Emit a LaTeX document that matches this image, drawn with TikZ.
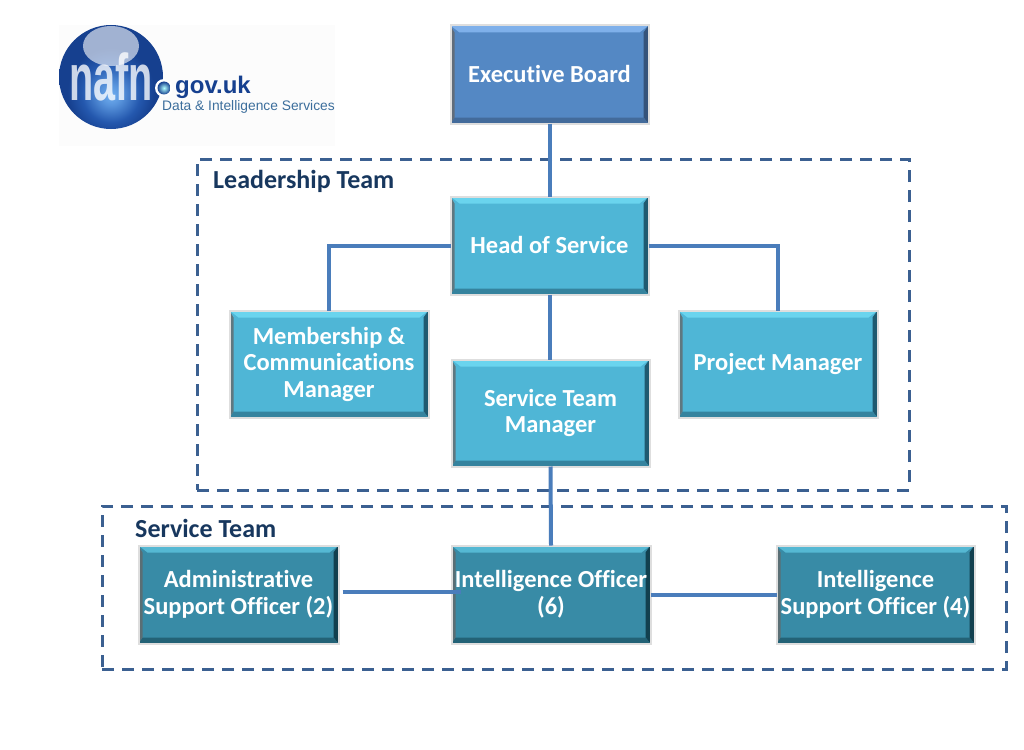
\documentclass[tikz,border=0pt]{standalone}
\usepackage{fontspec}
\setmainfont{Carlito}[Ligatures=NoCommon]
\newfontfamily\logosans{Liberation Sans}
\usetikzlibrary{calc}
\definecolor{dashc}{HTML}{3B6091}
\definecolor{linkc}{HTML}{4A7DBB}
\definecolor{titlec}{HTML}{17375E}
\tikzset{
  x=1pt,y=-1pt,
  bevelbox/.style n args={5}{rectangle,inner sep=0pt,outer sep=0pt,minimum width=#1,minimum height=#2,
    draw=black!13,line width=2pt,fill=#3,text=white,align=center,
    font=\fontsize{24.5}{26.5}\selectfont\bfseries,
    path picture={
      \coordinate (sw) at (path picture bounding box.south west);
      \coordinate (ne) at (path picture bounding box.north east);
      \coordinate (nw) at (path picture bounding box.north west);
      \coordinate (se) at (path picture bounding box.south east);
      \fill[#4] (nw) -- (ne) -- ($(ne)+(-9pt,-7pt)$) -- ($(nw)+(9pt,-7pt)$) -- cycle;
      \fill[#5] (ne) -- (se) -- ($(se)+(-5pt,6pt)$) -- ($(ne)+(-5pt,-7pt)$) -- cycle;
      \fill[#5!55!#3] (sw) -- (se) -- ($(se)+(-5pt,6pt)$) -- ($(sw)+(4pt,6pt)$) -- cycle;
      \fill[#3!60!black!40!gray] (nw) -- (sw) -- ($(sw)+(4pt,6pt)$) -- ($(nw)+(4pt,-7pt)$) -- cycle;
    }},
  execbox/.style n args={2}{bevelbox={#1}{#2}{execfill}{exectop}{execdark}},
  leadbox/.style n args={2}{bevelbox={#1}{#2}{leadfill}{leadtop}{leaddark}},
  teambox/.style n args={2}{bevelbox={#1}{#2}{teamfill}{teamtop}{teamdark}},
  link/.style={draw=linkc,line width=4pt},
  groupframe/.style={draw=dashc,line width=3pt,dash pattern=on 12pt off 8pt},
  grouptitle/.style={text=titlec,font=\fontsize{26}{27}\selectfont\bfseries,anchor=west,inner sep=0pt},
}
\definecolor{execfill}{HTML}{5488C4}
\definecolor{exectop}{HTML}{7FB0EA}
\definecolor{execdark}{HTML}{35537A}
\definecolor{leadfill}{HTML}{4FB6D6}
\definecolor{leadtop}{HTML}{6AD4EE}
\definecolor{leaddark}{HTML}{1F5A70}
\definecolor{teamfill}{HTML}{388BA6}
\definecolor{teamtop}{HTML}{55B8D3}
\definecolor{teamdark}{HTML}{12404F}
\definecolor{logoblue}{HTML}{16408F}
\definecolor{logomid}{HTML}{2458AE}
\definecolor{logoglow}{HTML}{6FAEF0}
\definecolor{logotext}{HTML}{3C6E9C}
\pgfdeclareradialshading{logoball}{\pgfpoint{0bp}{-9bp}}{
  color(0bp)=(logoglow); color(5bp)=(logoglow!70!logomid); color(14bp)=(logomid); color(21bp)=(logoblue); color(100bp)=(logoblue)}
\begin{document}
\begin{tikzpicture}
\useasboundingbox (0,0) rectangle (1024,749);
\fill[white] (0,0) rectangle (1024,749);
% logo
\fill[black!1!white] (59,25) rectangle (335,146);
\shade[shading=logoball] (111,77) circle (52);
\fill[white,opacity=.6] (111,46) ellipse (28 and 20);
\node[inner sep=0pt,text=white,opacity=.78,font=\logosans\bfseries\fontsize{66}{66}\selectfont,xscale=.6] (logomark) at (111,77) {nafn};
\fill[white] (164,88) circle (9);
\shade[inner color=cyan!30!white,outer color=logoblue] (164,88) circle (6.5);
\node[inner sep=0pt,anchor=west,text=logoblue,font=\logosans\bfseries\fontsize{24}{24}\selectfont] (logodomain) at (175,87) {gov.uk};
\node[inner sep=0pt,anchor=west,text=logotext,font=\logosans\fontsize{13.8}{15}\selectfont] (logotag) at (162,107) {Data \& Intelligence Services};
% groups
\node[groupframe,rectangle,inner sep=0pt,outer sep=0pt,minimum width=712pt,minimum height=331pt] (leadership) at (553,324.5) {};
\node[groupframe,rectangle,inner sep=0pt,outer sep=0pt,minimum width=904pt,minimum height=163pt] (serviceteam) at (554,587.5) {};
\node[grouptitle] (leadtitle) at (213,181) {Leadership Team};
\node[grouptitle] (teamtitle) at (135,528) {Service Team};
% boxes
\node[execbox={198pt}{98pt}] (exec) at (549.5,74.5) {\raisebox{1.5pt}{Executive Board}};
\node[leadbox={198pt}{98pt}] (head) at (549.5,245.5) {\raisebox{1.5pt}{Head of Service}};
\node[leadbox={199pt}{107pt}] (member) at (329,364) {Membership \&\\Communications\\Manager};
\node[leadbox={199pt}{107pt}] (project) at (778,364) {\raisebox{-1.5pt}{Project Manager}};
\node[leadbox={198pt}{107pt}] (stm) at (550.5,413) {Service Team\\Manager};
\node[teambox={200pt}{98pt}] (admin) at (238.5,594.5) {Administrative\\Support Officer (2)};
\node[teambox={199pt}{98pt}] (intel) at (551,594.5) {Intelligence Officer\\(6)};
\node[teambox={198pt}{98pt}] (isupport) at (875.5,594.5) {Intelligence\\Support Officer (4)};
% connectors
\draw[link] (exec.south) -- (head.north);
\draw[link] (head.south) -- (stm.north-|head.south);
\draw[link] (head.west) -| (member.north);
\draw[link] (head.east) -| (project.north);
\draw[link] (stm.south) -- (intel.north);
\draw[link] ([xshift=4pt,yshift=3pt]admin.east) -- ([xshift=9pt,yshift=3pt]intel.west);
\draw[link] (intel.east) -- (isupport.west);
\end{tikzpicture}
\end{document}
